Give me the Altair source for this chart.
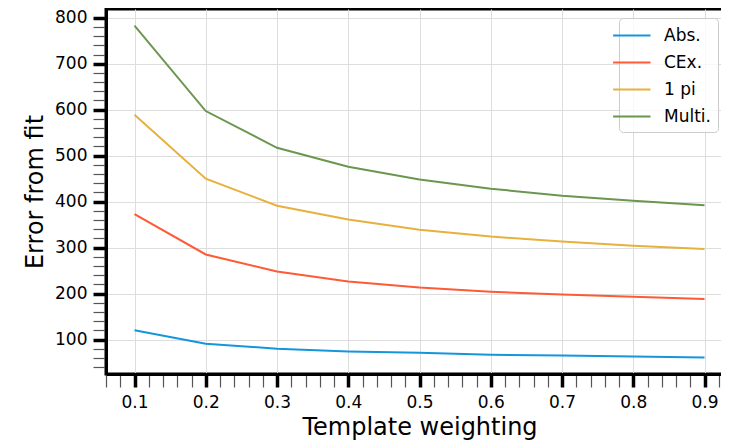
import altair as alt
import pandas as pd

weights = [0.1, 0.2, 0.3, 0.4, 0.5, 0.6, 0.7, 0.8, 0.9]
abs_vals = [120, 91, 80, 74, 71, 67, 65, 63, 61]
cex_vals = [373, 285, 248, 226, 213, 204, 198, 193, 188]
pi_vals = [589, 450, 391, 361, 339, 324, 313, 304, 297]
multi_vals = [783, 597, 517, 476, 448, 428, 413, 402, 392]

series_names = ["Abs.", "CEx.", "1 pi", "Multi."]
series_colors = ["#1496db", "#ff5a36", "#e8b03c", "#6b9650"]

x_ticks = [round(0.06 + 0.02 * i, 2) for i in range(45)]
y_ticks = list(range(40, 820, 20))

rows = []
for name, vals in zip(series_names, [abs_vals, cex_vals, pi_vals, multi_vals]):
    for w, v in zip(weights, vals):
        rows.append({"w": w, "err": v, "series": name})
df = pd.DataFrame(rows)

FONT = "DejaVu Sans"
x_major = "abs(datum.value*10 - round(datum.value*10)) < 0.000001"
y_major = "datum.value % 100 === 0"

x_axis = alt.Axis(
    values=x_ticks,
    title="Template weighting",
    labelExpr=f"({x_major}) ? format(datum.value, '.1f') : ''",
    labelOverlap=False,
    labelFlush=False,
    labelFont=FONT,
    labelFontSize=17,
    labelColor="black",
    labelPadding=7,
    titleFont=FONT,
    titleFontSize=24,
    titleFontWeight="normal",
    titleColor="black",
    titleX=313.5,
    titleY=41,
    tickSize=13,
    tickWidth={"condition": {"test": x_major, "value": 3.5}, "value": 1.2},
    tickColor={"condition": {"test": x_major, "value": "black"}, "value": "#555555"},
    grid=True,
    gridColor="#dddddd",
    gridWidth=1,
    gridOpacity={"condition": {"test": x_major, "value": 1}, "value": 0},
    domainColor="black",
    domainWidth=3,
)

y_axis = alt.Axis(
    values=y_ticks,
    title="Error from fit",
    labelExpr=f"({y_major}) ? datum.label : ''",
    labelOverlap=False,
    labelFlush=False,
    labelFont=FONT,
    labelFontSize=17,
    labelColor="black",
    labelPadding=6,
    titleFont=FONT,
    titleFontSize=24,
    titleFontWeight="normal",
    titleColor="black",
    titleX=-59,
    titleY=182.5,
    tickSize=13,
    tickWidth={"condition": {"test": y_major, "value": 3.5}, "value": 1.2},
    tickColor={"condition": {"test": y_major, "value": "black"}, "value": "#555555"},
    grid=True,
    gridColor="#dddddd",
    gridWidth=1,
    gridOpacity={"condition": {"test": y_major, "value": 1}, "value": 0},
    domainColor="black",
    domainWidth=3,
)

chart = (
    alt.Chart(df)
    .mark_line(strokeWidth=2, clip=True)
    .encode(
        x=alt.X("w:Q", scale=alt.Scale(domain=[0.06, 0.94], zero=False, nice=False), axis=x_axis),
        y=alt.Y("err:Q", scale=alt.Scale(domain=[25, 819], zero=False, nice=False), axis=y_axis),
        color=alt.Color(
            "series:N",
            scale=alt.Scale(domain=series_names, range=series_colors),
            legend=alt.Legend(
                title=None,
                orient="none",
                legendX=513,
                legendY=9,
                symbolType="M-2.5,0H1.5",
                symbolSize=350,
                symbolStrokeWidth=2,
                labelFont=FONT,
                labelFontSize=17,
                labelColor="black",
                labelOffset=17,
                rowPadding=8,
                padding=7,
                fillColor="rgba(255,255,255,0.8)",
                strokeColor="#cccccc",
                cornerRadius=4,
            ),
        ),
        order="w:Q",
    )
    .properties(
        width=627,
        height=365,
        autosize="none",
        padding={"left": 98, "top": 1, "right": -12, "bottom": 66},
    )
    .configure_view(stroke="black", strokeWidth=3)
)

chart.save("out.html", embed_options={"renderer": "svg", "actions": False})
